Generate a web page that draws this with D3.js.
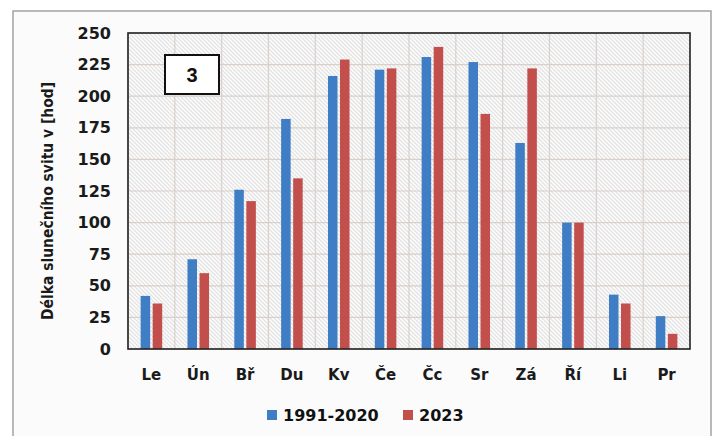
<!DOCTYPE html>
<html><head><meta charset="utf-8">
<script src="https://cdn.jsdelivr.net/npm/d3@7"></script>
<style>html,body{margin:0;padding:0;background:#fff;}svg{display:block;}</style>
</head><body>
<svg id="c" width="717" height="436"></svg>
<script>
const months = ["Le","Ún","Bř","Du","Kv","Če","Čc","Sr","Zá","Ří","Li","Pr"];
const seriesNames = ["1991-2020","2023"];
const normal = [42,71,126,182,216,221,231,227,163,100,43,26];
const y2023 = [36,60,117,135,229,222,239,186,222,100,36,12];
const yTicks = [0,25,50,75,100,125,150,175,200,225,250];
const colors = ["#3F7DC4","#C24F4C"];

const svg = d3.select("#c");
const m = {l:128,t:33,r:690,b:349};

// outer frame
svg.append("rect").attr("x",13).attr("y",11).attr("width",698).attr("height",440)
  .attr("fill","#fbfbfb").attr("stroke","#a3a3a3").attr("stroke-width",1.5);

const defs = svg.append("defs");
const pat = defs.append("pattern").attr("id","hatch").attr("patternUnits","userSpaceOnUse")
  .attr("width",4).attr("height",4);
pat.append("rect").attr("width",4).attr("height",4).attr("fill","#fbfbfb");
pat.append("path").attr("d","M-1,-1 L5,5 M-1,3 L1,5 M3,-1 L5,1").attr("stroke","#e0e0e0").attr("stroke-width",1.1);

const x = d3.scaleBand().domain(months).range([m.l,m.r]).padding(0);
const x1 = d3.scaleBand().domain(seriesNames).range([0,x.bandwidth()]).paddingInner(0.21).paddingOuter(1.05);
const y = d3.scaleLinear().domain([0,250]).range([m.b,m.t]);

svg.append("rect").attr("x",m.l).attr("y",m.t).attr("width",m.r-m.l).attr("height",m.b-m.t)
  .attr("fill","url(#hatch)");

// gridlines
const g = svg.append("g");
g.selectAll("line.h").data(yTicks).join("line")
  .attr("x1",m.l).attr("x2",m.r).attr("y1",d=>y(d)).attr("y2",d=>y(d))
  .attr("stroke","#d9d0ca").attr("stroke-width",1.2);
g.selectAll("line.v").data(months).join("line")
  .attr("x1",d=>x(d)).attr("x2",d=>x(d)).attr("y1",m.t).attr("y2",m.b)
  .attr("stroke","#d9d0ca").attr("stroke-width",1.2);

// bars
const data = months.map((mo,i)=>({mo, vals:[normal[i],y2023[i]]}));
const grp = svg.append("g").selectAll("g").data(data).join("g")
  .attr("transform",d=>`translate(${x(d.mo)},0)`);
grp.selectAll("rect").data(d=>d.vals.map((v,j)=>({s:seriesNames[j],v,j}))).join("rect")
  .attr("x",d=>x1(d.s)).attr("width",x1.bandwidth())
  .attr("y",d=>y(d.v)).attr("height",d=>y(0)-y(d.v))
  .attr("fill",d=>colors[d.j]);

// plot frame
svg.append("rect").attr("x",m.l).attr("y",m.t).attr("width",m.r-m.l).attr("height",m.b-m.t)
  .attr("fill","none").attr("stroke","#222").attr("stroke-width",1.6);

const font = "'DejaVu Sans', Verdana, sans-serif";
// y axis
const ya = svg.append("g").attr("transform",`translate(${m.l},0)`)
  .call(d3.axisLeft(y).tickValues(yTicks).tickSize(0).tickPadding(17));
ya.select(".domain").remove();
ya.selectAll("text").attr("font-family",font).attr("font-weight","bold").attr("font-size","16px").attr("fill","#1a1a1a");

// x axis
const xa = svg.append("g").attr("transform",`translate(0,${m.b})`)
  .call(d3.axisBottom(x).tickSize(0).tickPadding(20));
xa.select(".domain").remove();
xa.selectAll("text").attr("font-family",font).attr("font-weight","bold").attr("font-size","15px").attr("fill","#1a1a1a");

// y title
svg.append("text").attr("transform","translate(53,201) rotate(-90)").attr("text-anchor","middle")
  .attr("font-family",font).attr("font-weight","bold").attr("font-size","15px").attr("fill","#1a1a1a")
  .attr("textLength",238).attr("lengthAdjust","spacingAndGlyphs")
  .text("Délka slunečního svitu v [hod]");

// label box
svg.append("rect").attr("x",165).attr("y",55).attr("width",54).attr("height",39)
  .attr("fill","#fff").attr("stroke","#111").attr("stroke-width",2);
svg.append("text").attr("x",192).attr("y",82).attr("text-anchor","middle")
  .attr("font-family","'Liberation Sans', Arial, sans-serif").attr("font-weight","bold").attr("font-size","20px")
  .attr("fill","#111").text("3");

// legend
const legX = [267,403];
const lg = svg.append("g").selectAll("g").data(seriesNames).join("g")
  .attr("transform",(d,i)=>`translate(${legX[i]},410)`);
lg.append("rect").attr("width",10).attr("height",10).attr("fill",(d,i)=>colors[i]);
lg.append("text").attr("x",16).attr("y",11).attr("font-family",font).attr("font-weight","bold")
  .attr("font-size","16px").attr("fill","#111").text(d=>d);
</script>
</body></html>
